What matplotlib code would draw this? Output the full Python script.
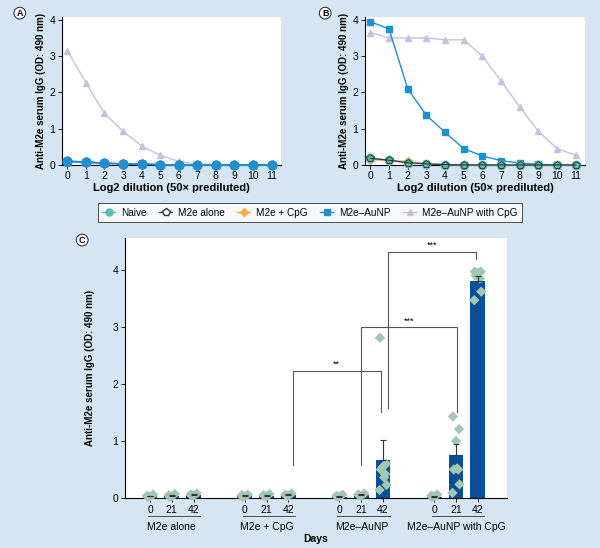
import matplotlib.pyplot as plt
import matplotlib.transforms as mtransforms
import numpy as np

plt.rcParams['font.family'] = ['Liberation Sans', 'DejaVu Sans']

# ---- data: dilution curves (panels A, B) ----
dilution = list(range(12))

a_naive = [0.10, 0.08, 0.05, 0.03, 0.02, 0.01, 0.0, 0.0, 0.0, 0.0, 0.0, 0.0]
a_m2e = [0.09, 0.07, 0.04, 0.03, 0.02, 0.01, 0.0, 0.0, 0.0, 0.0, 0.0, 0.0]
a_m2e_cpg = [0.10, 0.08, 0.05, 0.03, 0.02, 0.01, 0.0, 0.0, 0.0, 0.0, 0.0, 0.0]
a_aunp = [0.10, 0.09, 0.05, 0.03, 0.02, 0.01, 0.0, 0.0, 0.0, 0.0, 0.0, 0.0]
a_aunp_cpg = [3.15, 2.27, 1.42, 0.93, 0.52, 0.27, 0.10, 0.03, 0.01, 0.0, 0.0, 0.0]

b_naive = [0.20, 0.13, 0.06, 0.03, 0.01, 0.0, 0.0, 0.0, 0.0, 0.0, 0.0, 0.0]
b_m2e = [0.18, 0.13, 0.06, 0.03, 0.01, 0.0, 0.0, 0.0, 0.0, 0.0, 0.0, 0.0]
b_m2e_cpg = [0.15, 0.12, 0.10, 0.03, 0.01, 0.0, 0.0, 0.0, 0.0, 0.0, 0.0, 0.0]
b_aunp = [3.95, 3.75, 2.10, 1.37, 0.90, 0.45, 0.25, 0.12, 0.05, 0.02, 0.0, 0.0]
b_aunp_cpg = [3.65, 3.50, 3.50, 3.50, 3.45, 3.45, 3.00, 2.32, 1.60, 0.93, 0.45, 0.27]

# ---- data: time course (panel C) ----
groups = ['M2e alone', 'M2e + CpG', 'M2e\u2013AuNP', 'M2e\u2013AuNP with CpG']
days = ['0', '21', '42']
means = [[0.03, 0.04, 0.05],
         [0.03, 0.04, 0.05],
         [0.02, 0.05, 0.67],
         [0.02, 0.76, 3.80]]
errs = [[0.01, 0.02, 0.02],
        [0.02, 0.02, 0.02],
        [0.01, 0.02, 0.35],
        [0.02, 0.19, 0.10]]
points = [[[0.04, 0.06, 0.03, 0.02], [0.05, 0.07, 0.03, 0.02], [0.06, 0.08, 0.04, 0.05]],
          [[0.05, 0.06, 0.03, 0.02], [0.05, 0.07, 0.03, 0.04], [0.06, 0.08, 0.04, 0.05]],
          [[0.04, 0.06, 0.03, 0.02], [0.06, 0.08, 0.04, 0.05], [2.81, 0.60, 0.55, 0.50, 0.42, 0.23, 0.14, 0.36]],
          [[0.04, 0.06, 0.03, 0.02], [1.43, 1.21, 1.00, 0.50, 0.50, 0.24, 0.09, 0.52], [3.97, 3.97, 3.95, 3.90, 3.85, 3.62, 3.47, 3.95]]]

bg = '#d5e5f4'
c_naive = '#5cbcb3'
c_cpg = '#f4ae45'
c_aunp = '#1f8fd0'
c_tri = '#c7bfdc'

fig = plt.figure(figsize=(6, 5.48), dpi=100)
fig.patch.set_facecolor(bg)

axA = fig.add_axes([0.103, 0.699, 0.365, 0.27])
axB = fig.add_axes([0.608, 0.699, 0.367, 0.27])


def curve_panel(ax, naive, m2e, m2e_cpg, aunp, aunp_cpg, a_style):
    ax.plot(dilution, aunp_cpg, color=c_tri, lw=1, marker='^', ms=5, clip_on=False, zorder=3)
    if a_style:
        for s in [naive, m2e, m2e_cpg, aunp]:
            ax.plot(dilution, s, color=c_aunp, lw=1, marker='o', ms=6, clip_on=False, zorder=4)
    else:
        ax.plot(dilution, m2e_cpg, color=c_cpg, lw=1, marker='D', ms=4, clip_on=False, zorder=3)
        ax.plot(dilution, aunp, color=c_aunp, lw=1, marker='s', ms=5, clip_on=False, zorder=4)
        ax.plot(dilution, naive, color=c_naive, lw=1, marker='o', ms=6, clip_on=False, zorder=5)
        ax.plot(dilution, m2e, color='#333333', lw=0.8, marker='p', ms=6, mfc='none',
                mec='#333333', mew=0.7, clip_on=False, zorder=6)
    ax.set_xlim(-0.3, 11.5)
    ax.set_ylim(0, 4.08)
    ax.set_xticks(dilution)
    ax.set_yticks([0, 1, 2, 3, 4])
    ax.tick_params(labelsize=7.5, length=3, width=0.6, pad=1.5)
    ax.spines['top'].set_visible(False)
    ax.spines['right'].set_visible(False)
    ax.set_xlabel('Log2 dilution (50\u00d7 prediluted)', fontsize=8, fontweight='bold', labelpad=1)
    ax.set_ylabel('Anti-M2e serum IgG (OD: 490 nm)', fontsize=7, fontweight='bold', labelpad=3)


curve_panel(axA, a_naive, a_m2e, a_m2e_cpg, a_aunp, a_aunp_cpg, True)
curve_panel(axB, b_naive, b_m2e, b_m2e_cpg, b_aunp, b_aunp_cpg, False)

# legend
handles = [
    plt.Line2D([], [], color=c_naive, marker='o', ms=5, lw=1),
    plt.Line2D([], [], color='#333333', marker='p', ms=6, mfc='white', lw=0.8),
    plt.Line2D([], [], color=c_cpg, marker='D', ms=4, lw=1),
    plt.Line2D([], [], color=c_aunp, marker='s', ms=4, lw=1),
    plt.Line2D([], [], color=c_tri, marker='^', ms=5, lw=1),
]
labels = ['Naive', 'M2e alone', 'M2e + CpG', 'M2e\u2013AuNP', 'M2e\u2013AuNP with CpG']
leg = fig.legend(handles, labels, loc='center', bbox_to_anchor=(0.5167, 0.612), ncol=5,
                 fontsize=7.2, frameon=True, fancybox=False, handlelength=1.3,
                 columnspacing=1.25, borderpad=0.45, handletextpad=0.6)
leg.get_frame().set_edgecolor('#222222')
leg.get_frame().set_linewidth(0.7)

# panel C
axC = fig.add_axes([0.2083, 0.0912, 0.637, 0.4745])
xs = []
for g in range(len(groups)):
    for d in range(len(days)):
        xs.append(g * 4.35 + d)
bar_vals = [v for row in means for v in row]
bar_errs = [v for row in errs for v in row]
axC.bar(xs, bar_vals, width=0.68, color='#0b4e98', zorder=2)
axC.errorbar(xs, bar_vals, yerr=[np.zeros(len(bar_errs)), bar_errs], fmt='none',
             ecolor='#333333', elinewidth=0.8, capsize=2.5, capthick=0.8, zorder=4)
jit = [-0.14, 0.14, 0.0, -0.1, 0.1, 0.16, -0.16, 0.05]
i = 0
for g in range(len(groups)):
    for d in range(len(days)):
        pts = points[g][d]
        axC.scatter([xs[i] + jit[k % len(jit)] for k in range(len(pts))], pts, marker='D',
                    s=28, color='#a3c7b1', edgecolors='none', zorder=3, clip_on=False)
        i += 1

axC.set_xlim(-1.15, 16.4)
axC.set_ylim(0, 4.56)
axC.set_yticks([0, 1, 2, 3, 4])
axC.set_xticks(xs)
axC.set_xticklabels(days * len(groups))
axC.tick_params(labelsize=7.5, length=3, width=0.6, pad=2)
axC.spines['top'].set_visible(False)
axC.spines['right'].set_visible(False)
axC.set_ylabel('Anti-M2e serum IgG (OD: 490 nm)', fontsize=7, fontweight='bold', labelpad=12)

trans = mtransforms.blended_transform_factory(axC.transData, axC.transAxes)
for g in range(len(groups)):
    x0 = xs[g * 3] - 0.1
    x1 = xs[g * 3 + 2] + 0.3
    axC.plot([x0, x1], [-0.071, -0.071], color='#333333', lw=0.6, transform=trans, clip_on=False)
    axC.text(xs[g * 3 + 1], -0.112, groups[g], transform=trans, ha='center', va='center', fontsize=7.5)
axC.text(0.5, -0.158, 'Days', transform=axC.transAxes, ha='center', va='center',
         fontsize=7.5, fontweight='bold')

# significance brackets
bc = '#555555'
def bracket(xl, yl, xr, yr, top, label):
    axC.plot([xl, xl, xr, xr], [yl, top, top, yr], color=bc, lw=0.8, zorder=5)
    axC.text((xl + xr) / 2, top + 0.03, label, ha='center', va='bottom', fontsize=6.5)

bracket(xs[5] + 0.2, 0.58, xs[8] - 0.1, 1.5, 2.23, '**')
bracket(xs[7], 0.58, xs[10] + 0.05, 1.5, 3.0, '***')
bracket(xs[8] + 0.25, 1.58, xs[11] - 0.1, 4.2, 4.32, '***')

# panel letters
for x, y, s in [(0.033, 0.976, 'A'), (0.542, 0.976, 'B'), (0.137, 0.562, 'C')]:
    fig.text(x, y, s, fontsize=6.5, fontweight='bold', ha='center', va='center',
             bbox=dict(boxstyle='circle,pad=0.15', fc='white', ec='#222222', lw=0.7))

fig.savefig('out.png', dpi=100, facecolor=bg)
